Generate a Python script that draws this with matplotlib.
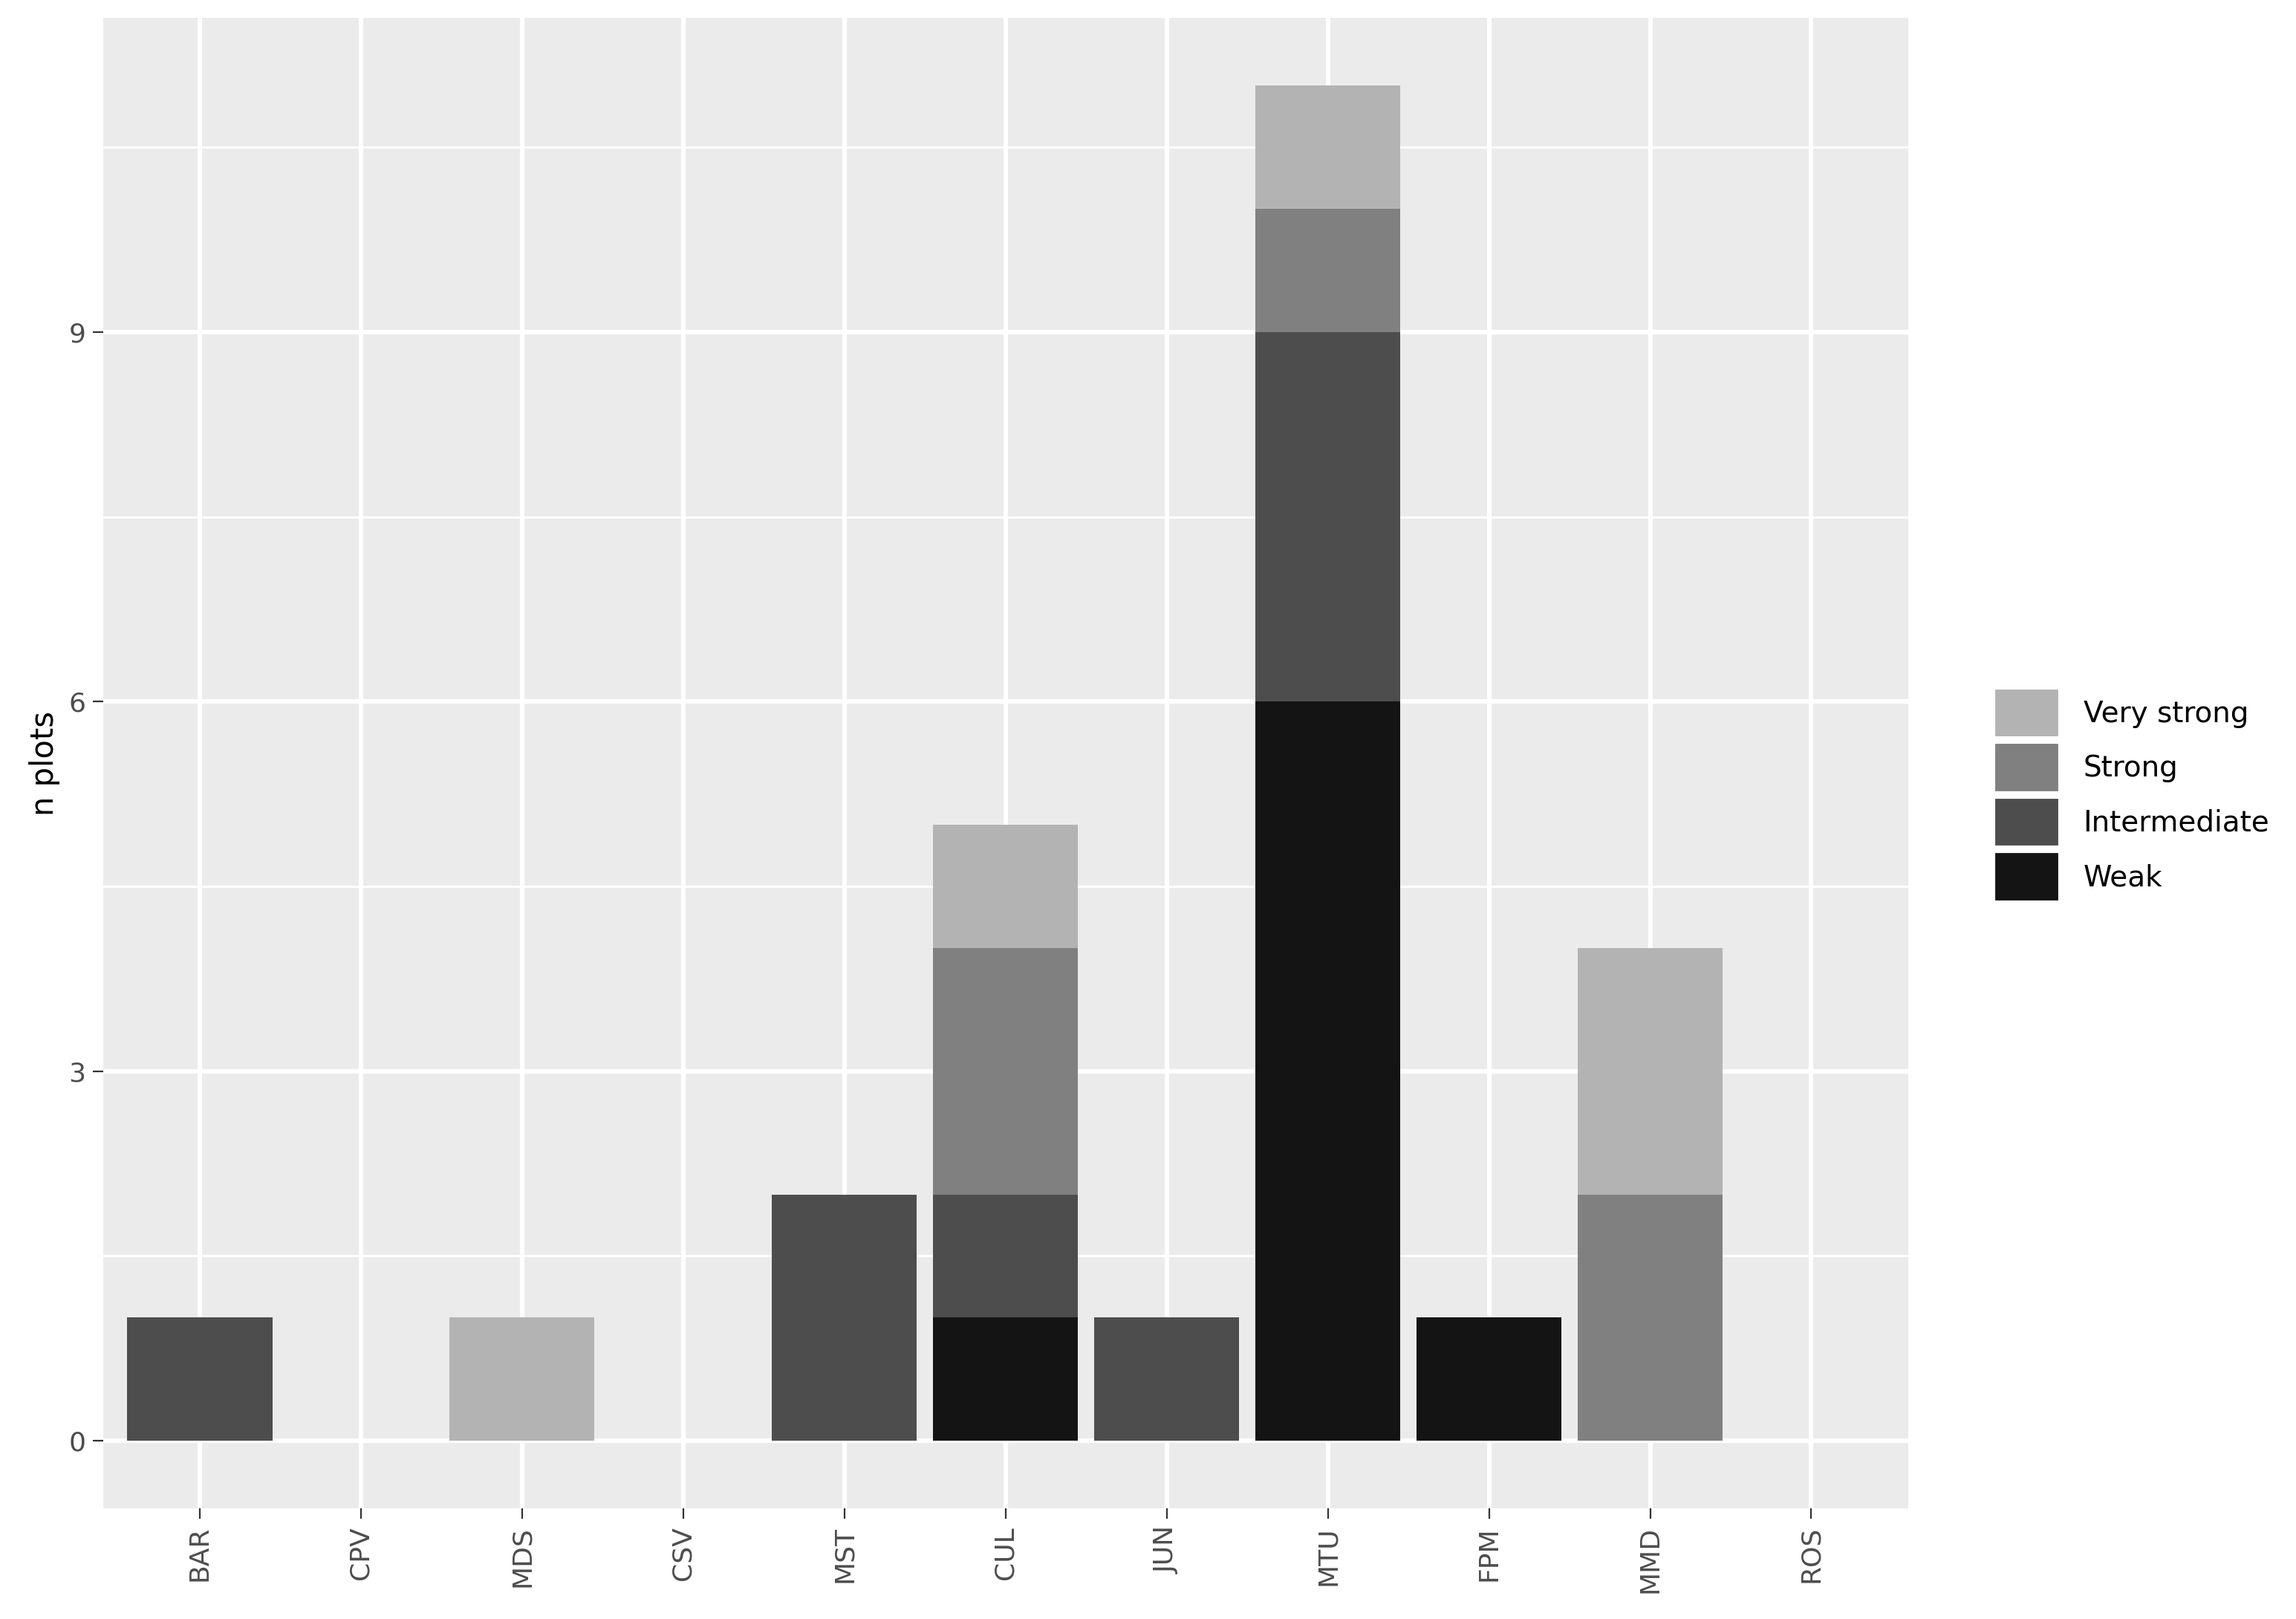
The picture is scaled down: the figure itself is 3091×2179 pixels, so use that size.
import matplotlib.pyplot as plt
from matplotlib.patches import Patch
import numpy as np

sites = ["BAR", "CPV", "MDS", "CSV", "MST", "CUL", "JUN", "MTU", "FPM", "MMD", "ROS"]
weak = [0, 0, 0, 0, 0, 1, 0, 6, 1, 0, 0]
intermediate = [1, 0, 0, 0, 2, 1, 1, 3, 0, 0, 0]
strong = [0, 0, 0, 0, 0, 2, 0, 1, 0, 2, 0]
very_strong = [0, 0, 1, 0, 0, 1, 0, 1, 0, 2, 0]

series = [("Weak", weak, "#141414"), ("Intermediate", intermediate, "#4d4d4d"),
          ("Strong", strong, "#808080"), ("Very strong", very_strong, "#b3b3b3")]

fig = plt.figure(figsize=(15.455, 10.895), dpi=200)
ax = fig.add_axes([0.0449, 0.0682, 0.831 - 0.0449, 0.989 - 0.0682])
ax.set_facecolor("#ebebeb")
for s in ax.spines.values():
    s.set_visible(False)

x = np.arange(len(sites))
bottom = np.zeros(len(sites))
for name, vals, col in series:
    vals = np.array(vals, dtype=float)
    ax.bar(x, vals, bottom=bottom, width=0.9, color=col, zorder=3)
    bottom += vals

ax.set_xlim(-0.6, 10.6)
ax.set_ylim(-0.55, 11.55)
ax.set_yticks([0, 3, 6, 9])
ax.set_yticks([1.5, 4.5, 7.5, 10.5], minor=True)
ax.set_xticks(x)
ax.set_xticklabels(sites, rotation=90, fontsize=13, color="#4d4d4d")
ax.tick_params(axis="y", labelsize=13, labelcolor="#4d4d4d")
ax.tick_params(which="both", color="#333333", length=5)
ax.tick_params(which="minor", length=0)
ax.grid(True, which="major", color="white", linewidth=2.2, zorder=0)
ax.grid(True, which="minor", axis="y", color="white", linewidth=1.1, zorder=0)
ax.set_axisbelow(True)
ax.set_ylabel("n plots", fontsize=15)

handles = [Patch(facecolor=c, edgecolor="white", linewidth=1.5) for _, _, c in series][::-1]
labels = [n for n, _, _ in series][::-1]
fig.legend(handles, labels, loc="center left", bbox_to_anchor=(0.857, 0.509),
           frameon=False, fontsize=14, handlelength=2.3, handleheight=2.3,
           labelspacing=0.15, handletextpad=0.8)

fig.savefig("out.png", dpi=200)
